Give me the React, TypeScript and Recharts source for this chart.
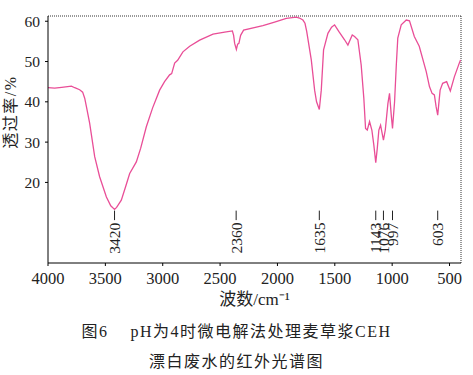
import {
  ComposedChart,
  Line,
  Scatter,
  XAxis,
  YAxis,
  ReferenceLine,
} from "recharts";

// IR spectrum: wavenumber (cm-1) and transmittance (%)
const wavenumbers = [
  4000, 3942, 3881, 3796, 3767, 3724, 3698, 3680, 3663, 3637, 3593, 3550,
  3491, 3453, 3420, 3402, 3361, 3323, 3288, 3230, 3192, 3143, 3088, 3027,
  2984, 2940, 2922, 2896, 2870, 2824, 2765, 2678, 2562, 2460, 2393, 2382,
  2373, 2358, 2347, 2336, 2321, 2295, 2127, 2025, 1923, 1836, 1808, 1778,
  1760, 1745, 1705, 1676, 1659, 1635, 1618, 1598, 1560, 1528, 1502, 1464,
  1415, 1386, 1348, 1328, 1299, 1270, 1247, 1232, 1217, 1197, 1177, 1160,
  1143, 1130, 1116, 1101, 1076, 1060, 1037, 1023, 1008, 997, 979, 964, 951,
  921, 877, 849, 807, 764, 703, 675, 652, 632, 617, 603, 582, 560, 525, 493,
  458, 415, 404,
];
const transmittance = [
  43.5, 43.4, 43.6, 43.9, 43.5, 43.0, 42.4, 40.9, 38.5, 34.7, 26.4, 21.4,
  16.4, 14.2, 13.3, 13.8, 15.6, 19.0, 22.2, 25.1, 28.5, 33.8, 38.5, 42.9,
  45.0, 46.7, 47.0, 49.6, 50.3, 52.4, 53.8, 55.3, 56.8, 57.3, 57.6, 56.5,
  54.5, 53.0, 54.3, 54.5, 56.5, 57.8, 58.9, 59.8, 60.7, 61.0, 60.8, 60.3,
  59.5, 57.5, 50.4, 42.9, 40.0, 38.1, 42.9, 52.9, 57.0, 58.5, 59.1, 57.4,
  55.4, 54.1, 56.6, 56.2, 55.4, 49.1, 40.9, 33.4, 33.0, 35.1, 33.0, 29.3,
  24.9, 28.4, 33.0, 34.2, 30.5, 33.0, 39.6, 42.1, 36.7, 33.4, 40.0, 49.1,
  55.8, 59.1, 60.3, 60.1, 56.2, 53.8, 47.5, 43.8, 42.1, 41.7, 38.8, 36.7,
  42.9, 44.6, 45.0, 42.7, 46.2, 49.6, 50.4,
];

const peakLabels = [3420, 2360, 1635, 1143, 1076, 997, 603];
const xTicks = [4000, 3500, 3000, 2500, 2000, 1500, 1000, 500];
const yTicks = [20, 30, 40, 50, 60];

const spectrum = wavenumbers.map((w, i) => ({ w, t: transmittance[i] }));
const peaks = peakLabels.map((w) => ({ w, y: 13 }));

const serif = "'Liberation Serif', 'Times New Roman', 'Noto Sans CJK SC', serif";
const ink = "#222";

function PeakMark(props: any) {
  const { cx, cy, payload } = props;
  const ty = cy + 12;
  return (
    <g>
      <line x1={cx} y1={cy} x2={cx} y2={cy + 9.5} stroke={ink} strokeWidth={1} />
      <text
        x={cx}
        y={ty}
        dy="0.35em"
        transform={`rotate(-90, ${cx}, ${ty})`}
        textAnchor="end"
        fontFamily={serif}
        fontSize={15.5}
        fill={ink}
      >
        {payload.w}
      </text>
    </g>
  );
}

// y-axis title sits above the plot's middle, as in the original figure
function YTitle() {
  const x = 10;
  const y = 112;
  return (
    <text
      x={x}
      y={y}
      dy="0.35em"
      transform={`rotate(-90, ${x}, ${y})`}
      textAnchor="middle"
      fontFamily={serif}
      fontSize={16}
      letterSpacing={1.5}
      fill={ink}
    >
      透过率/%
    </text>
  );
}

export default function App() {
  return (
    <div
      style={{
        position: "absolute",
        left: 0,
        top: 0,
        width: 473,
        height: 375,
        background: "#fff",
      }}
    >
      <ComposedChart
        width={473}
        height={310}
        margin={{ top: 16, right: 12, left: 0, bottom: 0 }}
      >
        <XAxis
          dataKey="w"
          type="number"
          domain={[400, 4000]}
          reversed
          ticks={xTicks}
          allowDataOverflow
          height={47}
          tickSize={3}
          tickMargin={6}
          stroke="#000"
          tick={{ fontFamily: serif, fontSize: 16.5, fill: ink }}
          label={{
            value: "波数/cm⁻¹",
            position: "insideBottom",
            offset: 5,
            style: { fontFamily: serif, fontSize: 17, fill: ink },
          }}
        />
        <YAxis
          type="number"
          domain={[0, 61.3]}
          ticks={yTicks}
          allowDataOverflow
          width={48}
          tickSize={3}
          tickMargin={5}
          stroke="#000"
          tick={{ fontFamily: serif, fontSize: 15.5, fill: ink }}
          label={<YTitle />}
        />
        <ReferenceLine y={61.3} stroke="#333" strokeDasharray="1 1" />
        <ReferenceLine x={400} stroke="#333" strokeDasharray="1 1" />
        <Line
          data={spectrum}
          dataKey="t"
          type="linear"
          stroke="#E94E97"
          strokeWidth={1.3}
          dot={false}
          isAnimationActive={false}
        />
        <Scatter
          data={peaks}
          dataKey="y"
          shape={<PeakMark />}
          isAnimationActive={false}
        />
      </ComposedChart>
      <div
        style={{
          position: "absolute",
          left: 0,
          top: 322,
          width: 473,
          textAlign: "center",
          lineHeight: "20px",
          fontFamily: serif,
          fontSize: 16,
          letterSpacing: 1.5,
          color: ink,
          whiteSpace: "pre",
        }}
      >
        {"图6    pH为4时微电解法处理麦草浆CEH"}
      </div>
      <div
        style={{
          position: "absolute",
          left: 0,
          top: 352,
          width: 473,
          textAlign: "center",
          lineHeight: "20px",
          fontFamily: serif,
          fontSize: 16,
          letterSpacing: 1.5,
          color: ink,
        }}
      >
        漂白废水的红外光谱图
      </div>
    </div>
  );
}
